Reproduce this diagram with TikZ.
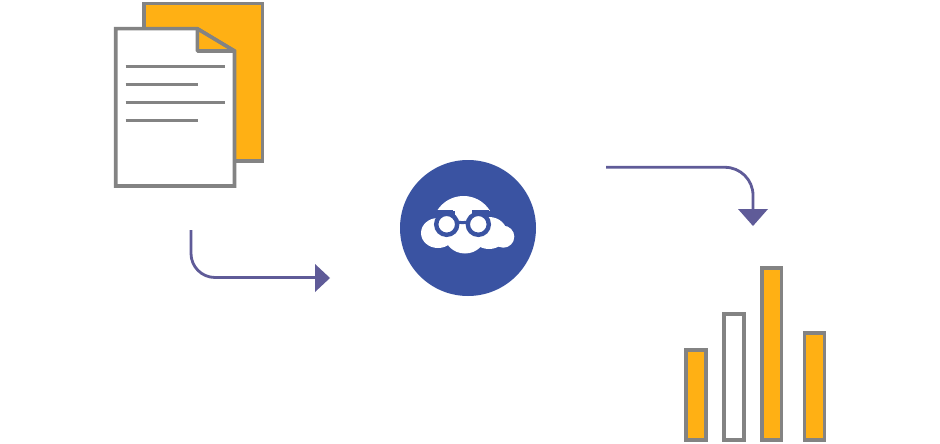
\documentclass[tikz,border=0pt]{standalone}
\definecolor{sheetgrey}{HTML}{838383}
\definecolor{sheetorange}{HTML}{FFB014}
\definecolor{badgeblue}{HTML}{3A53A2}
\definecolor{flowviolet}{HTML}{5F5B98}
\tikzset{
  sheet/.style={draw=sheetgrey,line width=3.6pt},
  foldflap/.style={draw=sheetgrey,line width=3.6pt,line join=bevel,fill=sheetorange},
  barfilled/.style={draw=sheetgrey,line width=3.6pt,fill=sheetorange},
  barempty/.style={draw=sheetgrey,line width=3.6pt,fill=white},
  textline/.style={draw=sheetgrey,line width=3.4pt},
  flow/.style={draw=flowviolet,line width=2.8pt,rounded corners=24pt},
  flowhead/.style={fill=flowviolet,draw=none},
  cloudpuff/.style={fill=white,draw=none},
  specs/.style={draw=badgeblue,line width=4.4pt},
}
\begin{document}
\begin{tikzpicture}[x=1pt,y=-1pt]
\useasboundingbox (0,0) rectangle (940,444);
\fill[white] (0,0) rectangle (940,444);
% documents
\draw[barfilled] (143.8,3.7) rectangle (262.3,161);
\draw[sheet,fill=white] (115.7,28.7) -- (197.3,28.7) -- (234.5,51) -- (234.5,186) -- (115.7,186) -- cycle;
\draw[foldflap] (197.3,28.7) -- (234.5,51) -- (197.3,51) -- cycle;
\draw[textline] (125.5,66.3) -- (224.5,66.3);
\draw[textline] (125.5,84.3) -- (198.3,84.3);
\draw[textline] (125.5,102.3) -- (224.5,102.3);
\draw[textline] (125.5,120.3) -- (198.3,120.3);
% badge
\fill[badgeblue] (468,228) circle (68);
\begin{scope}
  \clip (430,190) rectangle (500,210);
  \fill[cloudpuff] (463.5,227) circle (31);
\end{scope}
\fill[cloudpuff] (455,209) rectangle (472,225);
\fill[cloudpuff] (438,233) ellipse [x radius=17,y radius=15];
\fill[cloudpuff] (465,233.5) ellipse [x radius=21,y radius=20];
\fill[cloudpuff] (489,233) ellipse [x radius=18,y radius=16];
\fill[cloudpuff] (503.3,236.7) circle (11);
\draw[specs,line width=2.6pt] (437.2,211) -- (453,211);
\draw[specs,line width=2.6pt] (472,211) -- (489.2,211);
\draw[specs,fill=white] (446.7,224.3) circle (10.5);
\draw[specs,fill=white] (478.3,224.3) circle (10.5);
\draw[specs,line width=3pt] (456,221.5) .. controls (460,223) and (465,223) .. (469,221.5);
% bars
\draw[barfilled] (685.7,350) rectangle (705.7,440);
\draw[barempty] (723.7,314) rectangle (743.7,440);
\draw[barfilled] (761.7,267.7) rectangle (781.5,440);
\draw[barfilled] (804.4,333) rectangle (824.4,440);
% arrows
\coordinate (a1s) at (191,230);
\coordinate (a1c) at (191,277.5);
\coordinate (a1e) at (316,277.5);
\coordinate (a2s) at (606,167.3);
\coordinate (a2c) at (753,167.3);
\coordinate (a2e) at (753,210);
\draw[flow] (a1s) -- (a1c) -- (a1e);
\fill[flowhead] (315,264) -- (330,278) -- (315,292) -- cycle;
\draw[flow,rounded corners=28pt] (a2s) -- (a2c) -- (a2e);
\fill[flowhead] (738,209) -- (768,209) -- (753,226) -- cycle;
\end{tikzpicture}
\end{document}
